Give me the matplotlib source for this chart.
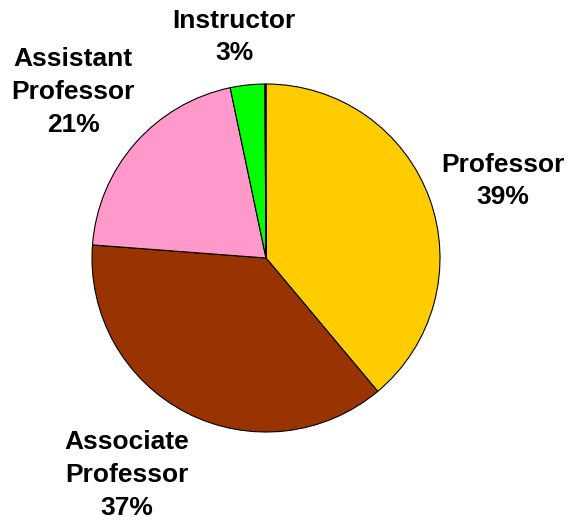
import matplotlib
matplotlib.use("Agg")
import matplotlib.pyplot as plt

categories = ["Professor", "Associate\nProfessor", "Assistant\nProfessor", "Instructor", "Other"]
values = [38.9, 37.3, 20.5, 3.2, 0.1]
pct_labels = ["39%", "37%", "21%", "3%", ""]
colors = ["#FFCC00", "#993300", "#FF99CC", "#00FF00", "#808080"]

W, H = 568, 522
fig = plt.figure(figsize=(W / 100, H / 100), dpi=100)
cx, cy, r = 266, 258, 174
ax = fig.add_axes([(cx - r) / W, (H - cy - r) / H, 2 * r / W, 2 * r / H])
ax.pie(values, colors=colors, startangle=90, counterclock=False, radius=1,
       wedgeprops=dict(edgecolor="black", linewidth=0.8))
ax.set_xlim(-1, 1)
ax.set_ylim(-1, 1)
ax.set_aspect("equal")
ax.axis("off")

label_pos = [(503, 181), (127, 475), (73, 92), (234, 37)]
for (px, py), cat, pct in zip(label_pos, categories, pct_labels):
    ax.text((px - cx) / r, (cy - py) / r, f"{cat}\n{pct}", ha="center", va="center",
            fontsize=19, fontweight="bold", family="Liberation Sans",
            linespacing=1.45, clip_on=False)

fig.savefig("out.png", dpi=100, facecolor="white")
